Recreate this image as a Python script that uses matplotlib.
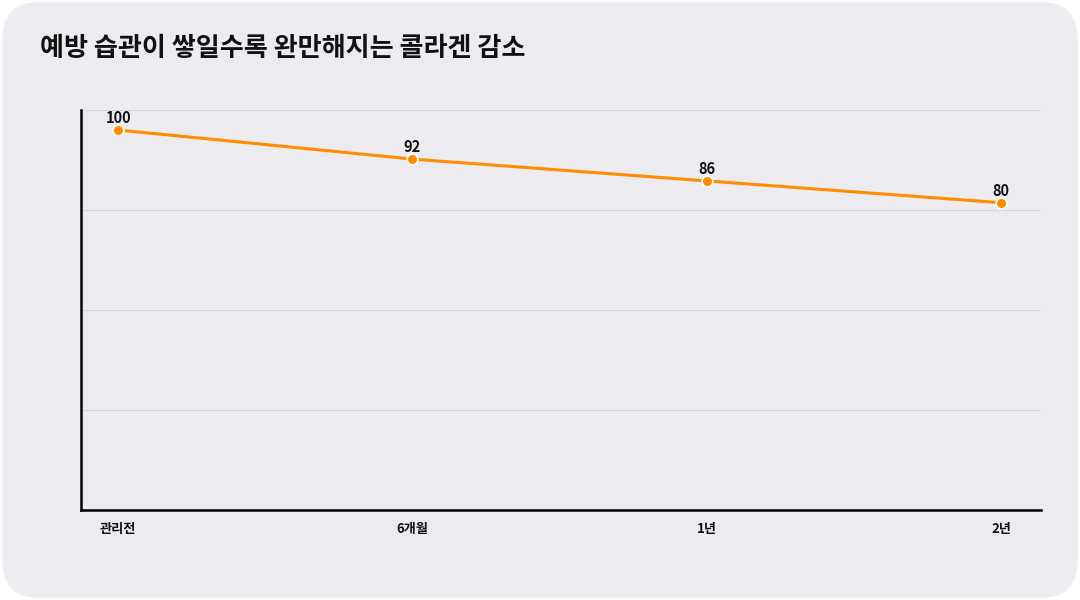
import matplotlib
matplotlib.use("Agg")
import matplotlib.pyplot as plt
from matplotlib.patches import FancyBboxPatch

plt.rcParams['font.family'] = ['Noto Sans CJK KR', 'DejaVu Sans']

periods = ['관리전', '6개월', '1년', '2년']
collagen = [100, 92, 86, 80]
title = '예방 습관이 쌓일수록 완만해지는 콜라겐 감소'

bg = '#ECEBF0'
orange = '#FF8C00'

fig = plt.figure(figsize=(10.8, 6), dpi=100, facecolor='white')
card = FancyBboxPatch((0.002, 0.003), 0.996, 0.994,
                      boxstyle='round,pad=0,rounding_size=0.035',
                      transform=fig.transFigure, facecolor=bg, edgecolor='none',
                      mutation_aspect=1.8, zorder=-10)
fig.patches.append(card)

ax = fig.add_axes([81 / 1080, 90 / 600, 960 / 1080, 400 / 600])
ax.set_facecolor('none')

x = list(range(len(periods)))
ax.plot(x, collagen, color=orange, linewidth=2.2, zorder=3)
ax.scatter(x, collagen, s=60, color=orange, edgecolor='white', linewidth=1.2, zorder=4)
for xi, v in zip(x, collagen):
    ax.annotate(str(v), (xi, v), xytext=(0, 3), textcoords='offset points',
                ha='center', va='bottom', fontsize=10.5, fontweight='bold', color='#111111')

ax.set_xlim(-0.126, 3.136)
ax.set_ylim(-4.5, 105.5)
ax.set_yticks([-4.5, 23, 50.5, 78, 105.5])
ax.set_yticklabels([])
ax.tick_params(axis='y', length=0)
ax.grid(axis='y', color='#D6D6DB', linewidth=0.8)
ax.set_axisbelow(True)

ax.set_xticks(x)
ax.set_xticklabels(periods, fontsize=9.5, fontweight='bold', color='#111111')
ax.tick_params(axis='x', length=0, pad=9)

for side in ['top', 'right']:
    ax.spines[side].set_visible(False)
for side in ['left', 'bottom']:
    ax.spines[side].set_color('black')
    ax.spines[side].set_linewidth(1.8)

fig.text(40 / 1080, 1 - 48 / 600, title, fontsize=18.8, fontweight='bold',
         color='#111111', ha='left', va='center')

fig.savefig('out.png', dpi=100, facecolor='white')
